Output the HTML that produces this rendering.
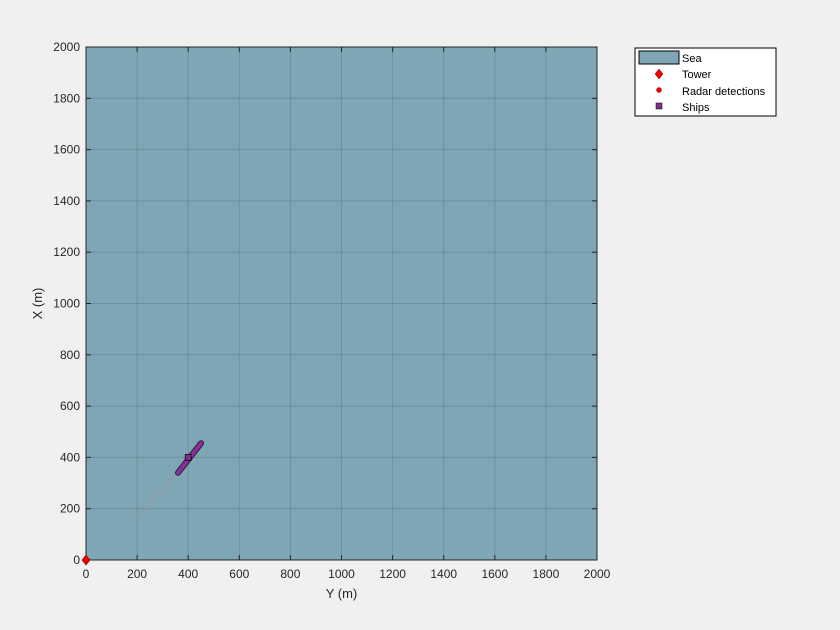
<!DOCTYPE html>
<html><head><meta charset="utf-8"><style>
body{margin:0;background:#f0f0f0;}
svg{display:block;font-family:"Liberation Sans",sans-serif;}
</style></head><body>
<svg width="840" height="630">
<rect width="840" height="630" fill="#f0f0f0"/>
<g id="plot"></g>
<g id="legend">
<rect x="635" y="48" width="141" height="68" fill="#fff" stroke="#000" stroke-width="1"/>
<rect x="639" y="51" width="40" height="13" fill="#7fa6b5" stroke="#000"/>
<text x="682" y="62" font-size="11">Sea</text>
<path d="M659,69 L663,74 L659,79 L655,74 Z" fill="#e00" stroke="#800" stroke-width="0.5"/>
<text x="682" y="78" font-size="11">Tower</text>
<circle cx="659" cy="90" r="2.5" fill="#e00" stroke="#800" stroke-width="0.5"/>
<text x="682" y="95" font-size="11">Radar detections</text>
<rect x="656" y="103" width="6" height="6" fill="#7e2f8e" stroke="#000" stroke-width="0.5"/>
<text x="682" y="111" font-size="11">Ships</text>
</g>
</svg>
<script>
const xTicks=[0,200,400,600,800,1000,1200,1400,1600,1800,2000];
const yTicks=[0,200,400,600,800,1000,1200,1400,1600,1800,2000];
const trackY=[200,360];
const trackX=[170,340];
const shipY=[360,450];
const shipX=[340,455];
const towerPos=[0,0];
const detection=[400,400];
const L=86,R=597,T=47,B=560;
const sx=v=>L+(v/2000)*(R-L);
const sy=v=>B-(v/2000)*(B-T);
const ns="http://www.w3.org/2000/svg";
const g=document.getElementById('plot');
function mk(t,a){const e=document.createElementNS(ns,t);for(const k in a)e.setAttribute(k,a[k]);g.appendChild(e);return e;}
let e=mk('rect',{x:L,y:T,width:R-L,height:B-T,fill:'#7fa6b5'});


xTicks.forEach(v=>{
 let l=mk('line',{x1:sx(v),x2:sx(v),y1:T,y2:B,stroke:'#2a4a55','stroke-opacity':0.22,'stroke-width':1});
 
 
 let t=mk('text',{x:sx(v),y:B+18,'font-size':12,'text-anchor':'middle',fill:'#262626'});t.textContent=v;
 
 
 mk('line',{x1:sx(v),x2:sx(v),y1:B,y2:B-5,stroke:'#262626'});
 mk('line',{x1:sx(v),x2:sx(v),y1:T,y2:T+5,stroke:'#262626'});
});
yTicks.forEach(v=>{
 let l=mk('line',{x1:L,x2:R,y1:sy(v),y2:sy(v),stroke:'#2a4a55','stroke-opacity':0.22,'stroke-width':1});
 
 
 let t=mk('text',{x:L-6,y:sy(v)+4,'font-size':12,'text-anchor':'end',fill:'#262626'});t.textContent=v;
 
 
 mk('line',{x1:L,x2:L+5,y1:sy(v),y2:sy(v),stroke:'#262626'});
 mk('line',{x1:R,x2:R-5,y1:sy(v),y2:sy(v),stroke:'#262626'});
});
let bx=mk('rect',{x:L,y:T,width:R-L,height:B-T,fill:'none',stroke:'#262626'});


let tr=mk('line',{x1:sx(trackY[0]),y1:sy(trackX[0]),x2:sx(trackY[1]),y2:sy(trackX[1]),stroke:'#999','stroke-width':1});


let s1=mk('line',{x1:sx(shipY[0]),y1:sy(shipX[0]),x2:sx(shipY[1]),y2:sy(shipX[1]),stroke:'#222','stroke-width':6,'stroke-linecap':'round'});


let s2=mk('line',{x1:sx(shipY[0]),y1:sy(shipX[0]),x2:sx(shipY[1]),y2:sy(shipX[1]),stroke:'#8e2fa0','stroke-width':4,'stroke-linecap':'round'});


let d=mk('rect',{x:sx(detection[0])-3,y:sy(detection[1])-3,width:6,height:6,fill:'#7e2f8e',stroke:'#000','stroke-width':0.7});


const tx=sx(towerPos[0]),ty=sy(towerPos[1]);
let tw=mk('path',{d:`M${tx},${ty-5} L${tx+4},${ty} L${tx},${ty+5} L${tx-4},${ty} Z`,fill:'#e00',stroke:'#800','stroke-width':0.6});


let xl=mk('text',{x:(L+R)/2,y:598,'font-size':13,'text-anchor':'middle',fill:'#262626'});xl.textContent='Y (m)';


let yl=mk('text',{x:0,y:0,'font-size':13,'text-anchor':'middle',fill:'#262626',transform:`translate(42,${(T+B)/2}) rotate(-90)`});yl.textContent='X (m)';


</script>
</body></html>
